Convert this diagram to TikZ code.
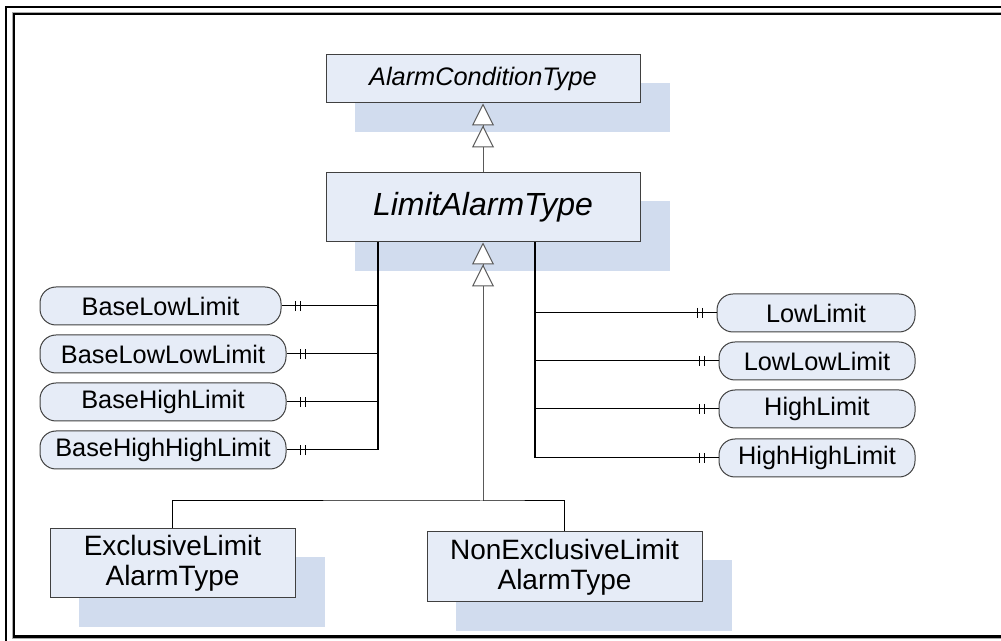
\documentclass[tikz,border=0pt]{standalone}
\usepackage{fontspec}
\setmainfont{Liberation Sans}
\usetikzlibrary{arrows.meta,decorations.markings,backgrounds,calc}
\definecolor{boxfill}{RGB}{230,236,247}
\definecolor{shadowblue}{RGB}{209,220,238}
\definecolor{edgegray}{RGB}{64,64,64}
\definecolor{framegray}{RGB}{170,170,170}
\begin{document}
\begin{tikzpicture}[x=0.75pt,y=-0.75pt,
  typebox/.style={draw=edgegray, line width=0.75pt, fill=boxfill, inner sep=0pt, align=center},
  propbox/.style={draw=edgegray, line width=0.75pt, fill=boxfill, inner sep=0pt,
    rounded corners=12pt, minimum height=28.5pt, font=\fontsize{19}{22}\selectfont},
  gen/.style={draw=black!65, line width=0.75pt,
    -{Triangle[length=16.5pt,width=16.5pt,fill=white,sep=0pt]Triangle[length=16.5pt,width=16.5pt,fill=white,sep=0pt]}},
  vline/.style={draw=black, line width=0.9pt},
  conn/.style={draw=black, line width=0.75pt},
  ticked/.style={draw=black, line width=0.75pt, postaction={decorate},
    decoration={markings,
      mark=at position 10.5pt with {\draw[line width=0.7pt] (0,-3.8pt) -- (0,3.8pt);},
      mark=at position 14.25pt with {\draw[line width=0.7pt] (0,-3.8pt) -- (0,3.8pt);}}},
  shadowfill/.style={fill=shadowblue}
]
\useasboundingbox (0,0) rectangle (1001,641);
\begin{scope}
  \clip (0,0) rectangle (1001,641);
  \draw[line width=1.6pt] (6,7) rectangle (1030,670);
  \draw[framegray, line width=0.75pt] (12.3,12.3) rectangle (1030,638.8);
  \draw[black, line width=1.6pt] (14,14) rectangle (1030,636.5);
\end{scope}

% type boxes
\node[typebox, font=\itshape\fontsize{19}{22}\selectfont, minimum width=235.5pt, minimum height=36pt] (ACT) at (483,79) {AlarmConditionType};
\node[typebox, font=\itshape\fontsize{24}{28}\selectfont, minimum width=235.5pt, minimum height=51.75pt] (LAT) at (483,207.5) {LimitAlarmType};
\node[typebox, font=\fontsize{21}{22.5}\selectfont, minimum width=183.75pt, minimum height=51.75pt] (ELAT) at (172.5,563.5) {ExclusiveLimit\\AlarmType};
\node[typebox, font=\fontsize{21}{22.5}\selectfont, minimum width=206.25pt, minimum height=52.5pt] (NELAT) at (564.5,567) {NonExclusiveLimit\\AlarmType};

% shadows
\begin{scope}[on background layer]
  \foreach \n in {ACT,LAT,ELAT,NELAT}{
    \fill[shadowfill] ($(\n.south west)+(29,29)$) rectangle ($(\n.north east)+(29,29)$);
  }
\end{scope}

% property ovals
\node[propbox, minimum width=180.75pt] (bll) at (160.5,306) {BaseLowLimit};
\node[propbox, minimum width=184.5pt] (blll) at (163,354) {BaseLowLowLimit};
\node[propbox, minimum width=184.5pt] (bhl) at (163,402) {BaseHighLimit};
\node[propbox, minimum width=184.5pt] (bhhl) at (163,450) {BaseHighHighLimit};
\node[propbox, minimum width=148.5pt] (ll) at (816,313) {LowLimit};
\node[propbox, minimum width=147pt] (lll) at (817,361) {LowLowLimit};
\node[propbox, minimum width=147pt] (hl) at (817,409) {HighLimit};
\node[propbox, minimum width=147pt] (hhl) at (817,458) {HighHighLimit};

% junction coordinates
\coordinate (lt) at (378,242);
\coordinate (rt) at (535,242);
\coordinate (jn) at (483,501);

% generalizations
\draw[gen] (LAT.north) -- (ACT.south);
\draw[gen] (jn) -- (LAT.south);
\draw[conn] (ELAT.north) |- (jn) -| (NELAT.north);

% property connectors
\draw[vline] (lt) -- (lt |- bhhl.east);
\draw[vline] (rt) -- (rt |- hhl.west);
\foreach \p in {bll,blll,bhl,bhhl}{
  \draw[ticked] (\p.east) -- (\p.east -| lt);
}
\foreach \p in {ll,lll,hl,hhl}{
  \draw[ticked] (\p.west) -- (\p.west -| rt);
}
\end{tikzpicture}
\end{document}
